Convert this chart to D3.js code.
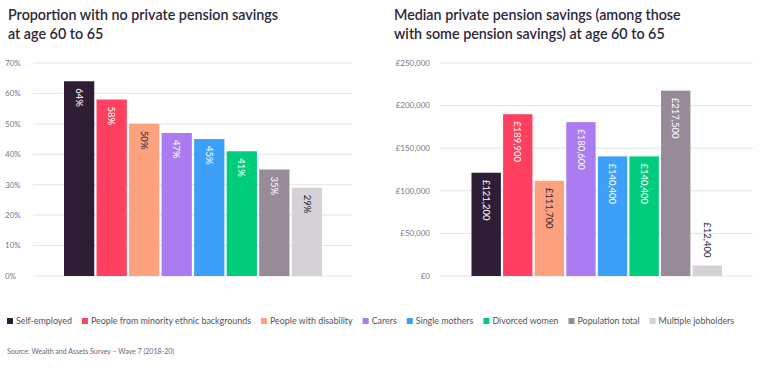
<!DOCTYPE html>
<html>
<head>
<meta charset="utf-8">
<script src="https://cdn.jsdelivr.net/npm/d3@7"></script>
<style>
  body { margin: 0; background: #fff; }
  svg { font-family: Lato, "Open Sans", sans-serif; }
</style>
</head>
<body>
<svg id="chart" width="765" height="373"></svg>
<script>
const categories = [
  'Self-employed',
  'People from minority ethnic backgrounds',
  'People with disability',
  'Carers',
  'Single mothers',
  'Divorced women',
  'Population total',
  'Multiple jobholders'
];
const colors = ['#2f1d36', '#ff4060', '#fea17f', '#ab7cf1', '#3da0f8', '#00cd7c', '#978b97', '#d5d1d6'];
const darkLabel = [false, false, true, false, false, false, false, true];

const noPensionPct = [64, 58, 50, 47, 45, 41, 35, 29];
const medianSavings = [121200, 189900, 111700, 180600, 140400, 140400, 217500, 12400];

const pctTicks = [0, 10, 20, 30, 40, 50, 60, 70];
const gbpTicks = [0, 50000, 100000, 150000, 200000, 250000];

const svg = d3.select('#chart');
const titleColor = '#2c2838';
const axisColor = '#7a7680';

// titles
function title(x, lines) {
  const t = svg.append('text').attr('x', x).attr('y', 20)
    .attr('fill', titleColor).style('font-size', '14.3px').style('font-weight', 600);
  lines.forEach((l, i) => t.append('tspan').attr('x', x).attr('dy', i ? 19 : 0).text(l));
}
title(8, ['Proportion with no private pension savings', 'at age 60 to 65']);
title(394, ['Median private pension savings (among those', 'with some pension savings) at age 60 to 65']);

function panel(opts) {
  const y = d3.scaleLinear().domain(opts.domain).range([276, 63]);
  const x = d3.scaleBand().domain(categories).range(opts.barRange).paddingInner(0.07);
  const g = svg.append('g');

  g.selectAll('line.grid').data(opts.ticks).join('line')
    .attr('x1', opts.gridRange[0]).attr('x2', opts.gridRange[1])
    .attr('y1', d => y(d)).attr('y2', d => y(d))
    .attr('stroke', '#e4e3e6').attr('stroke-width', 1);

  g.selectAll('text.tick').data(opts.ticks).join('text')
    .attr('x', opts.labelX).attr('y', d => y(d)).attr('dy', '0.35em')
    .attr('text-anchor', opts.anchor)
    .attr('fill', axisColor).style('font-size', '8px')
    .text(opts.tickFmt);

  const vals = opts.values;
  g.selectAll('rect').data(categories).join('rect')
    .attr('x', d => x(d)).attr('width', x.bandwidth())
    .attr('y', (d, i) => y(vals[i])).attr('height', (d, i) => y(0) - y(vals[i]))
    .attr('fill', (d, i) => colors[i]);

  const small = i => y(0) - y(vals[i]) < 50;
  g.selectAll('text.val').data(categories).join('text')
    .attr('dy', '0.35em')
    .attr('fill', (d, i) => (darkLabel[i] || small(i)) ? '#2c2838' : '#ffffff')
    .style('font-size', '9.5px')
    .text((d, i) => opts.valFmt(vals[i]))
    .attr('transform', function (d, i) {
      const cx = x(d) + x.bandwidth() / 2;
      const len = this.getComputedTextLength();
      const top = small(i) ? y(vals[i]) - 8 - len : y(vals[i]) + 7;
      return `translate(${cx},${top}) rotate(90)`;
    });
}

panel({
  domain: [0, 70], ticks: pctTicks, values: noPensionPct,
  barRange: [64, 322], gridRange: [33, 352], labelX: 5, anchor: 'start',
  tickFmt: d => d + '%', valFmt: v => v + '%'
});

panel({
  domain: [0, 250000], ticks: gbpTicks, values: medianSavings,
  barRange: [471.5, 722], gridRange: [440, 753], labelX: 430, anchor: 'end',
  tickFmt: d => '£' + d3.format(',')(d), valFmt: v => '£' + d3.format(',')(v)
});

// legend
let lx = 7;
const leg = svg.append('g');
categories.forEach((c, i) => {
  leg.append('rect').attr('x', lx).attr('y', 318).attr('width', 6).attr('height', 6).attr('fill', colors[i]);
  const t = leg.append('text').attr('x', lx + 9).attr('y', 321).attr('dy', '0.35em')
    .attr('fill', '#55525a').style('font-size', '8.9px').text(c);
  lx += 9 + t.node().getComputedTextLength() + 10;
});

svg.append('text').attr('x', 7).attr('y', 352).attr('dy', '0.35em')
  .attr('fill', '#6a6670').style('font-size', '7px')
  .text('Source: Wealth and Assets Survey \u2013 Wave 7 (2018-20)');
</script>
</body>
</html>
